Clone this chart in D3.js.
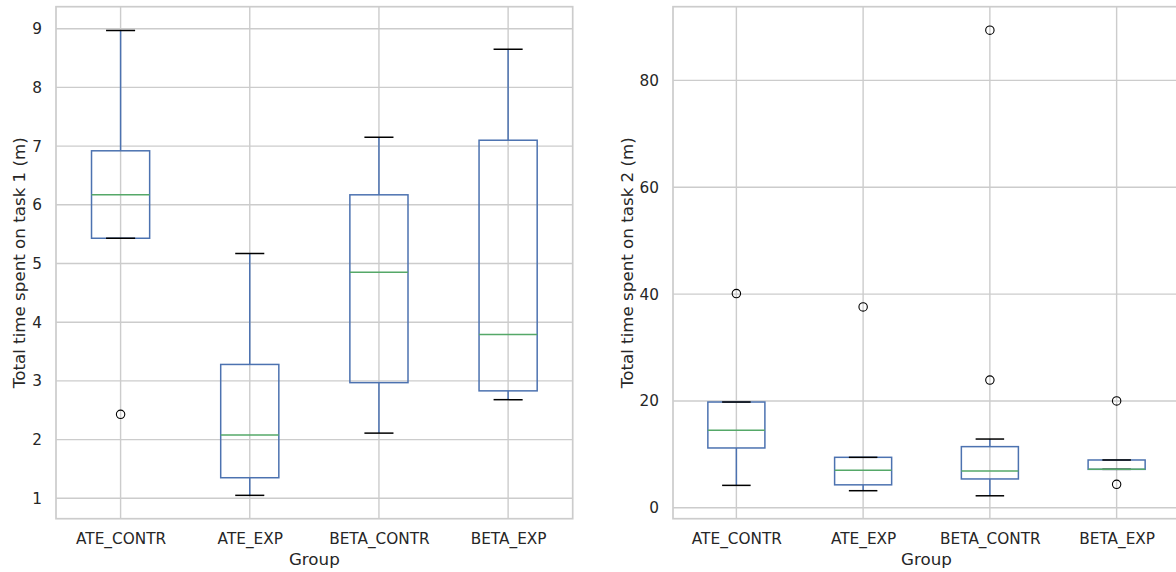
<!DOCTYPE html>
<html>
<head>
<meta charset="utf-8">
<script src="https://cdn.jsdelivr.net/npm/d3@7"></script>
<style>
  body { margin: 0; background: #fff; }
  svg { display: block; }
  text { font-family: "DejaVu Sans", sans-serif; fill: #262626; }
</style>
</head>
<body>
<div id="chart"></div>
<script>
// Groups shared by both panels
const groups = ['ATE_CONTR', 'ATE_EXP', 'BETA_CONTR', 'BETA_EXP'];

// Task 1 box statistics (minutes)
const t1WhiskerLow = [5.43, 1.05, 2.11, 2.68];
const t1Q1 = [5.43, 1.35, 2.97, 2.83];
const t1Median = [6.17, 2.08, 4.85, 3.79];
const t1Q3 = [6.92, 3.28, 6.17, 7.10];
const t1WhiskerHigh = [8.97, 5.17, 7.15, 8.65];
const t1Outliers = [[2.43], [], [], []];
const t1Ticks = [1, 2, 3, 4, 5, 6, 7, 8, 9];

// Task 2 box statistics (minutes)
const t2WhiskerLow = [4.2, 3.2, 2.25, 7.2];
const t2Q1 = [11.2, 4.3, 5.4, 7.2];
const t2Median = [14.5, 7.05, 6.9, 7.2];
const t2Q3 = [19.8, 9.45, 11.45, 8.95];
const t2WhiskerHigh = [19.8, 9.45, 12.87, 8.95];
const t2Outliers = [[40.1], [37.6], [89.4, 23.9], [20.0, 4.4]];
const t2Ticks = [0, 20, 40, 60, 80];

const W = 1176, H = 572;
const BLUE = '#4c72b0', GREEN = '#55a868', GRID = '#cccccc';

const svg = d3.select('#chart').append('svg')
  .attr('width', W)
  .attr('height', H);

function buildStats(lo, q1, med, q3, hi, out) {
  return groups.map((g, i) => ({
    group: g, lo: lo[i], q1: q1[i], med: med[i], q3: q3[i], hi: hi[i], out: out[i]
  }));
}

function drawPanel(opts) {
  const { left, right, top, bottom, yDomain, ticks, stats, yLabel, yLabelX } = opts;
  const g = svg.append('g');

  const x = d3.scalePoint().domain(groups).range([left, right]).padding(0.5);
  const y = d3.scaleLinear().domain(yDomain).range([bottom, top]);
  const step = x.step();
  const boxW = step * 0.45;
  const capW = boxW / 2;

  const clipId = 'clip' + Math.round(left);
  g.append('clipPath').attr('id', clipId)
    .append('rect').attr('x', left).attr('y', top)
    .attr('width', right - left).attr('height', bottom - top);

  // grid
  g.append('g').selectAll('line.hgrid')
    .data(ticks).enter().append('line')
    .attr('x1', left).attr('x2', right)
    .attr('y1', d => y(d)).attr('y2', d => y(d))
    .attr('stroke', GRID).attr('stroke-width', 1.4);
  g.append('g').selectAll('line.vgrid')
    .data(groups).enter().append('line')
    .attr('x1', d => x(d)).attr('x2', d => x(d))
    .attr('y1', top).attr('y2', bottom)
    .attr('stroke', GRID).attr('stroke-width', 1.4);

  // spines
  g.append('rect')
    .attr('x', left).attr('y', top)
    .attr('width', right - left).attr('height', bottom - top)
    .attr('fill', 'none').attr('stroke', GRID).attr('stroke-width', 1.7);

  const marks = g.append('g').attr('clip-path', `url(#${clipId})`);
  const b = marks.selectAll('g.box').data(stats).enter().append('g');

  // whiskers
  b.append('line')
    .attr('x1', d => x(d.group)).attr('x2', d => x(d.group))
    .attr('y1', d => y(d.q3)).attr('y2', d => y(d.hi))
    .attr('stroke', BLUE).attr('stroke-width', 1.5);
  b.append('line')
    .attr('x1', d => x(d.group)).attr('x2', d => x(d.group))
    .attr('y1', d => y(d.q1)).attr('y2', d => y(d.lo))
    .attr('stroke', BLUE).attr('stroke-width', 1.5);

  // boxes
  b.append('rect')
    .attr('x', d => x(d.group) - boxW / 2)
    .attr('y', d => y(d.q3))
    .attr('width', boxW)
    .attr('height', d => Math.max(0, y(d.q1) - y(d.q3)))
    .attr('fill', 'none').attr('stroke', BLUE).attr('stroke-width', 1.5);

  // caps
  ['lo', 'hi'].forEach(k => {
    b.append('line')
      .attr('x1', d => x(d.group) - capW / 2).attr('x2', d => x(d.group) + capW / 2)
      .attr('y1', d => y(d[k])).attr('y2', d => y(d[k]))
      .attr('stroke', '#000').attr('stroke-width', 1.5);
  });

  // medians
  b.append('line')
    .attr('x1', d => x(d.group) - boxW / 2).attr('x2', d => x(d.group) + boxW / 2)
    .attr('y1', d => y(d.med)).attr('y2', d => y(d.med))
    .attr('stroke', GREEN).attr('stroke-width', 1.5);

  // fliers
  b.selectAll('circle')
    .data(d => d.out.map(v => ({ group: d.group, v })))
    .enter().append('circle')
    .attr('cx', d => x(d.group)).attr('cy', d => y(d.v))
    .attr('r', 4.2)
    .attr('fill', 'none').attr('stroke', '#000').attr('stroke-width', 1.1);

  // axes
  const yAxis = g.append('g')
    .attr('transform', `translate(${left},0)`)
    .call(d3.axisLeft(y).tickValues(ticks).tickSize(0).tickPadding(14).tickFormat(d3.format('d')));
  yAxis.select('.domain').remove();
  yAxis.selectAll('text').style('font-size', '15.3px').attr('fill', '#262626');

  const xAxis = g.append('g')
    .attr('transform', `translate(0,${bottom})`)
    .call(d3.axisBottom(x).tickSize(0).tickPadding(14));
  xAxis.select('.domain').remove();
  xAxis.selectAll('text').style('font-size', '15.3px').attr('fill', '#262626');

  // labels
  g.append('text')
    .attr('x', (left + right) / 2).attr('y', 565)
    .attr('text-anchor', 'middle')
    .style('font-size', '16.7px')
    .text('Group');
  g.append('text')
    .attr('transform', `translate(${yLabelX},${(top + bottom) / 2}) rotate(-90)`)
    .attr('text-anchor', 'middle')
    .style('font-size', '16.7px')
    .text(yLabel);
}

drawPanel({
  left: 56, right: 572.7, top: 6.7, bottom: 518.7,
  yDomain: [0.652, 9.375], ticks: t1Ticks,
  stats: buildStats(t1WhiskerLow, t1Q1, t1Median, t1Q3, t1WhiskerHigh, t1Outliers),
  yLabel: 'Total time spent on task 1 (m)', yLabelX: 25
});

drawPanel({
  left: 673, right: 1180, top: 6.7, bottom: 518.7,
  yDomain: [-2.04, 93.8], ticks: t2Ticks,
  stats: buildStats(t2WhiskerLow, t2Q1, t2Median, t2Q3, t2WhiskerHigh, t2Outliers),
  yLabel: 'Total time spent on task 2 (m)', yLabelX: 633
});
</script>
</body>
</html>
